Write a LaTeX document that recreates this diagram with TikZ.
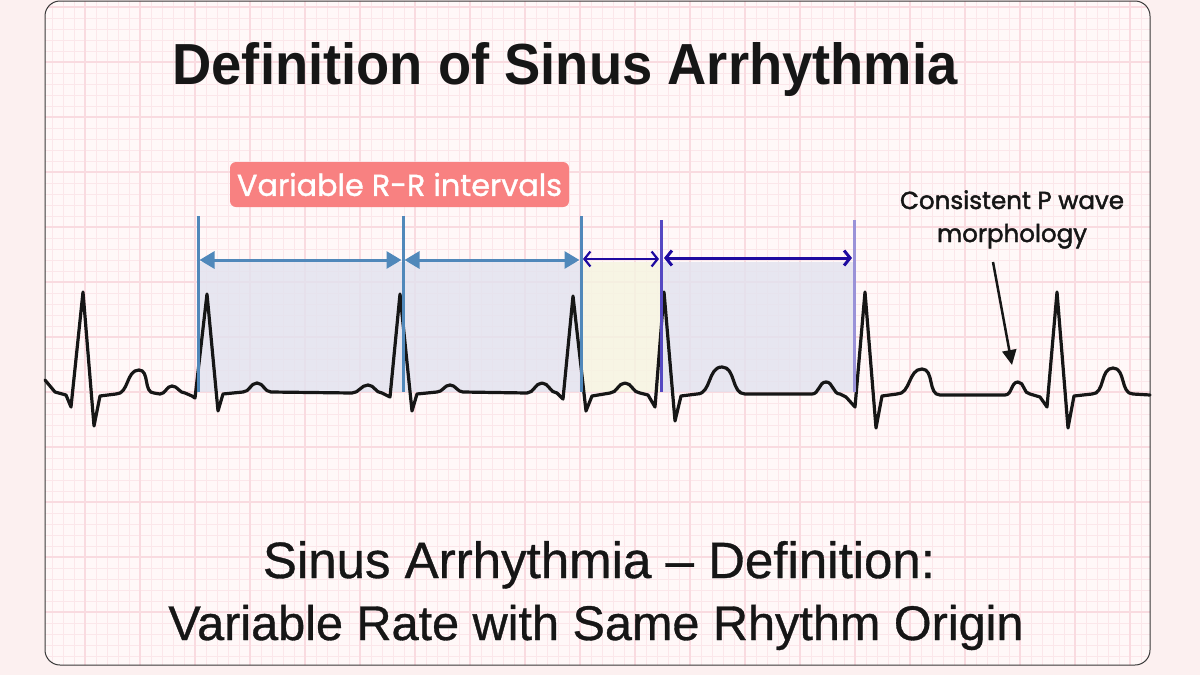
\documentclass[tikz,border=0pt]{standalone}
\usepackage{fontspec}
\setmainfont{Liberation Sans}
\newfontfamily\capfont[FakeBold=0.7]{Liberation Sans}
\newfontfamily\popfont[FakeBold=1.2]{Poppins}
\newfontfamily\popmed[FakeBold=1.8]{Poppins}
\usetikzlibrary{arrows.meta}
\definecolor{bgout}{HTML}{FCF0F0}
\definecolor{cardfill}{HTML}{FFF8F8}
\definecolor{gridminor}{HTML}{FBE7EA}
\definecolor{gridmajor}{HTML}{F9DBE0}
\definecolor{lav}{HTML}{E2E2EE}
\definecolor{pale}{HTML}{F5F5E0}
\definecolor{rrblue}{HTML}{5088BA}
\definecolor{indigo}{HTML}{5548C2}
\definecolor{lightindigo}{HTML}{9A92D8}
\definecolor{darkarrow}{HTML}{1E0BA0}
\definecolor{salmon}{HTML}{F88181}
\definecolor{ink}{HTML}{161616}
\begin{document}
\begin{tikzpicture}[x=1pt,y=-1pt,
  minor/.style={draw=gridminor,line width=0.8pt},
  major/.style={draw=gridmajor,line width=1.8pt},
  ecg/.style={draw=ink,line width=3.2pt,line join=round,line cap=round},
  bump/.style={out=0,in=180},
  rrline/.style={draw=rrblue,line width=3pt},
  rrarrow/.style={draw=rrblue,line width=3pt,{Triangle[length=15pt,width=17pt]}-{Triangle[length=15pt,width=17pt]}},
  darrow/.style={draw=darkarrow,{Straight Barb[length=6pt,width=15pt]}-{Straight Barb[length=6pt,width=15pt]}},
  shade/.style={fill opacity=0.8},
  txt/.style={anchor=base,inner sep=0pt,text=ink}]
\useasboundingbox (0,0) rectangle (1200,675);
\fill[bgout] (0,0) rectangle (1200,675);
% card with ECG grid
\begin{scope}
\clip[rounded corners=15pt] (45,1) rectangle (1150,665);
\fill[cardfill] (45,1) rectangle (1150,665);
\foreach \k in {0,...,106} \draw[minor] ({8+11*\k},0) -- ({8+11*\k},675);
\foreach \k in {0,...,62} \draw[minor] (0,{7+11*\k}) -- (1200,{7+11*\k});
\foreach \k in {0,...,21} \draw[major] ({30+55*\k},0) -- ({30+55*\k},675);
\foreach \k in {0,...,12} \draw[major] (0,{7+55*\k}) -- (1200,{7+55*\k});
\end{scope}
\draw[draw=ink!85,line width=1pt,rounded corners=15pt] (45,1) rectangle (1150,665);

% shaded R-R intervals
\fill[lav,shade] (198,262) rectangle (581,392);
\fill[pale,shade] (581,262) rectangle (661,392);
\fill[lav,shade] (661,262) rectangle (854,392);

% ECG trace
\draw[ecg] (45,380) -- (55,392) -- (66,395) -- (71,407) -- (83,292) -- (94,426) -- (100,396) -- (116,394)
  to[bump] (139,370) to[bump] (154,393) -- (160,394)
  to[bump] (172,386) to[bump] (185,393) -- (192,396) -- (195,398) -- (207,294) -- (218,411) -- (223,394) -- (243,392)
  to[bump] (257,383) to[bump] (271,392) -- (352,393)
  to[bump] (368,385) to[bump] (382,393) -- (388,396) -- (390,397) -- (400,294) -- (412,411) -- (417,394) -- (437,392)
  to[bump] (450,385) to[bump] (463,392) -- (527,393)
  to[bump] (542,383) to[bump] (557,393) -- (563,399) -- (573,296) -- (586,411) -- (592,396) -- (610,393)
  to[bump] (625,383) to[bump] (640,393) -- (648,395) -- (655,407) -- (664,292) -- (675,421) -- (681,396) -- (697,394)
  to[bump] (722,367) to[bump] (745,394) -- (812,394)
  to[bump] (826,382) to[bump] (840,394) -- (846,397) -- (855,407) -- (865,292) -- (876,428) -- (882,396) -- (897,394)
  to[bump] (922,369) to[bump] (940,395) -- (1005,395)
  to[bump] (1018,382) to[bump] (1030,394) -- (1040,397) -- (1047,407) -- (1057,292) -- (1068,428) -- (1074,396) -- (1092,394)
  to[bump] (1113,368) to[bump] (1133,394) -- (1150,395);

% vertical R markers
\coordinate (v1t) at (198,216); \coordinate (v1b) at (198,392);
\coordinate (v2t) at (403,216); \coordinate (v2b) at (403,392);
\coordinate (v3t) at (581,216); \coordinate (v3b) at (581,392);
\coordinate (v4t) at (661,220); \coordinate (v4b) at (661,392);
\coordinate (v5t) at (854,220); \coordinate (v5b) at (854,392);
\draw[rrline] (v1t) -- (v1b);
\draw[rrline] (v2t) -- (v2b);
\draw[rrline] (v3t) -- (v3b);
\draw[draw=indigo,line width=3pt] (v4t) -- (v4b);
\draw[draw=lightindigo,line width=3pt] (v5t) -- (v5b);

% interval arrows
\coordinate (a1) at (199.5,260); \coordinate (a2) at (401.5,260);
\coordinate (a3) at (404.5,260); \coordinate (a4) at (579.5,260);
\coordinate (a5) at (583,259); \coordinate (a6) at (659,259);
\coordinate (a7) at (664,258); \coordinate (a8) at (852,258);
\draw[rrarrow] (a1) -- (a2);
\draw[rrarrow] (a3) -- (a4);
\draw[darrow,line width=2.2pt] (a5) -- (a6);
\draw[darrow,line width=3pt] (a7) -- (a8);

% label
\node[fill=salmon,rounded corners=6pt,minimum width=339pt,minimum height=45pt,inner sep=0pt,text=white] (lbl) at (399.5,184.5)
  {\popfont\resizebox{325pt}{!}{Variable R-R intervals}};

% title
\node[txt] (title) at (565,84) {\resizebox{785pt}{42pt}{\bfseries Definition of Sinus Arrhythmia}};

% annotation
\node[txt] (ann1) at (1012,209) {\popmed\resizebox{224pt}{!}{Consistent P wave}};
\node[txt] (ann2) at (1012,242) {\popmed\resizebox{150pt}{!}{morphology}};
\coordinate (pa) at (993,262); \coordinate (pb) at (1012,365);
\draw[draw=ink,line width=2.5pt,-{Triangle[length=15pt,width=14pt]}] (pa) -- (pb);

% bottom caption
\node[txt] (cap1) at (599,578) {\capfont\resizebox{672pt}{!}{Sinus Arrhythmia – Definition:}};
\node[txt] (cap2) at (596,640) {\capfont\resizebox{855pt}{!}{Variable Rate with Same Rhythm Origin}};
\end{tikzpicture}
\end{document}
